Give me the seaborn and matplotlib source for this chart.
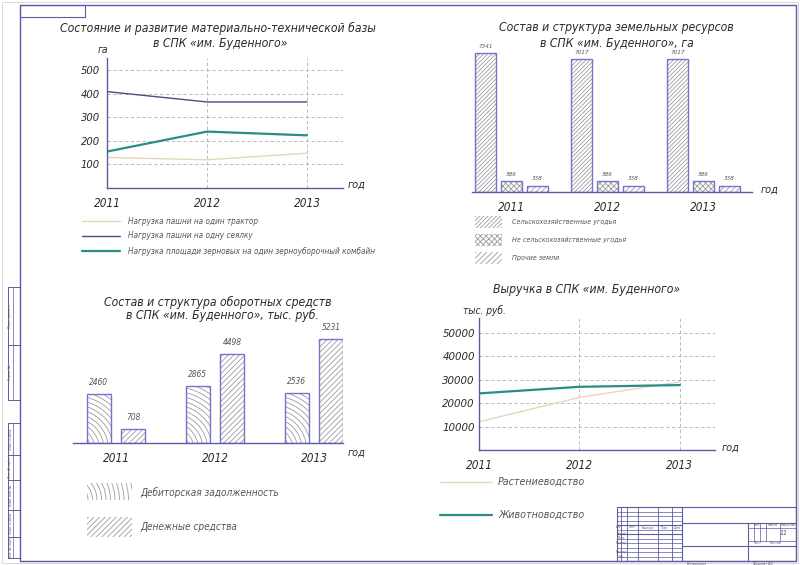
import matplotlib
matplotlib.use("Agg")
import numpy as np
import pandas as pd
import matplotlib.pyplot as plt
import seaborn as sns
from matplotlib import font_manager
from matplotlib.patches import Rectangle, Circle
from matplotlib.lines import Line2D
from matplotlib.transforms import IdentityTransform

# ── данные ────────────────────────────────────────────────────────────────
years = [2011, 2012, 2013]

# материально-техническая база, га
tractor_load = [130, 120, 148]
seeder_load = [410, 366, 366]
combine_load = [155, 240, 224]
mtb_labels = [
    "Нагрузка пашни на один трактор",
    "Нагрузка пашни на одну сеялку",
    "Нагрузка площади зерновых на один зерноуборочный комбайн",
]

# земельные ресурсы, га
land_types = ["Сельскохозяйственные угодья", "Не сельскохозяйственные угодья", "Прочие земли"]
agri_land = [7341, 7017, 7017]
non_agri_land = [586, 586, 586]
other_land = [338, 338, 338]

# оборотные средства, тыс. руб.
fund_types = ["Дебиторская задолженность", "Денежные средства"]
receivables = [2460, 2865, 2536]
cash = [708, 4498, 5231]

# выручка, тыс. руб.
revenue_types = ["Растениеводство", "Животноводство"]
crops_rev = [12000, 22400, 29000]
livestock_rev = [24100, 26900, 27650]

# ── оформление ────────────────────────────────────────────────────────────
W, H = 800, 565
NAVY = "#5b5ba6"
EDGE = "#7474cc"
LINE_DARK = "#4c4c86"
TEAL = "#2a8c84"
BEIGE = "#e6d6bc"
GRID = "#b0b0b0"
TXT = "#2a2a2a"
SOFT = "#555555"
HATCH = "#9c9c9c"
TITLE = 8.7

sns.set_theme(style="white")
names = {f.name for f in font_manager.fontManager.ttflist}
if "Liberation Sans Narrow" in names:
    plt.rcParams["font.family"] = ["Liberation Sans Narrow", "DejaVu Sans"]
else:
    plt.rcParams["font.family"] = ["DejaVu Sans"]
    plt.rcParams["font.stretch"] = "condensed"
plt.rcParams["font.style"] = "italic"
plt.rcParams["hatch.color"] = HATCH
plt.rcParams["hatch.linewidth"] = 0.6

fig = plt.figure(figsize=(W / 100, H / 100), dpi=100)
fig.patch.set_facecolor("white")


def fx(x):
    return x / W


def fy(y):
    return 1 - y / H


def axes_px(x0, y0, x1, y1):
    return fig.add_axes([fx(x0), fy(y1), (x1 - x0) / W, (y1 - y0) / H])


def ftext(x, y, s, size=10, color=TXT, **kw):
    kw.setdefault("ha", "center")
    kw.setdefault("va", "center")
    fig.text(fx(x), fy(y), s, fontsize=size, color=color, **kw)


def fline(xs, ys, color=NAVY, lw=0.8, **kw):
    fig.add_artist(Line2D([fx(v) for v in xs], [fy(v) for v in ys],
                          transform=fig.transFigure, color=color, lw=lw, **kw))


def frect(x0, y0, x1, y1, **kw):
    r = Rectangle((fx(x0), fy(y1)), (x1 - x0) / W, (y1 - y0) / H,
                  transform=fig.transFigure, **kw)
    fig.add_artist(r)
    return r


def arcs(target, cx, cy, clip, rmax, step=4.5):
    # концентрические дуги ("древесная" штриховка) в пикселях экрана
    for r in np.arange(step, rmax, step):
        c = Circle((cx, cy), r, transform=IdentityTransform(), fill=False,
                   ec=HATCH, lw=0.6, zorder=2)
        target.add_artist(c)
        c.set_clip_path(clip)


def style_line_axes(ax, pad_y, ysize):
    for s in ["top", "right"]:
        ax.spines[s].set_visible(False)
    for s in ["left", "bottom"]:
        ax.spines[s].set_color(NAVY)
        ax.spines[s].set_linewidth(1.0)
    ax.grid(True, color=GRID, linestyle=(0, (4, 3)), linewidth=0.6)
    ax.tick_params(length=0, colors=TXT)
    ax.tick_params(axis="y", labelsize=ysize, pad=pad_y)
    ax.tick_params(axis="x", labelsize=8.5, pad=6.5)
    ax.set_facecolor("none")


def style_bar_axes(ax):
    for s in ["top", "right", "left"]:
        ax.spines[s].set_visible(False)
    ax.spines["bottom"].set_color(NAVY)
    ax.spines["bottom"].set_linewidth(1.0)
    ax.set_yticks([])
    ax.tick_params(length=0, colors=TXT, labelsize=8.5, pad=6.5)
    ax.set_xlabel("")
    ax.set_ylabel("")
    ax.set_facecolor("none")


def outline_bars(ax, container, hatch):
    for bar in container:
        bar.set_hatch(hatch)
        bar.set_edgecolor(HATCH)
        bar.set_linewidth(0)
        ax.add_patch(Rectangle(bar.get_xy(), bar.get_width(), bar.get_height(),
                               fill=False, ec=EDGE, lw=1.0, zorder=3))


# ── 1. материально-техническая база ───────────────────────────────────────
ax1 = axes_px(107, 58, 343, 188)
sns.lineplot(x=years, y=tractor_load, color=BEIGE, lw=1.0, ax=ax1)
sns.lineplot(x=years, y=seeder_load, color=LINE_DARK, lw=1.0, ax=ax1)
sns.lineplot(x=years, y=combine_load, color=TEAL, lw=1.6, ax=ax1)
ax1.set_xlim(2011, 2013.36)
ax1.set_ylim(0, 553)
ax1.set_xticks(years)
ax1.set_yticks([100, 200, 300, 400, 500])
style_line_axes(ax1, 5, 8)

ftext(218, 28, "Состояние и развитие материально-технической базы", size=TITLE)
ftext(220, 43, "в СПК «им. Буденного»", size=TITLE)
ftext(103, 50, "га", size=7.5)
ftext(357, 185, "год", size=7.8)
for i, (lab, col, lw) in enumerate(zip(mtb_labels, [BEIGE, LINE_DARK, TEAL], [1.0, 1.0, 1.6])):
    yy = 221 + i * 15
    fline([82, 120], [yy, yy], color=col, lw=lw)
    ftext(128, yy, lab, size=5.9, color=SOFT, ha="left")

# ── 2. земельные ресурсы ─────────────────────────────────────────────────
land_df = pd.DataFrame({
    "year": years * 3,
    "type": [t for t in land_types for _ in years],
    "area": agri_land + non_agri_land + other_land,
})
ax2 = axes_px(472, 45, 752, 192)
sns.barplot(data=land_df, x="year", y="area", hue="type", hue_order=land_types,
            palette=["white"] * 3, saturation=1, width=0.81, gap=0.19,
            legend=False, ax=ax2)
ax2.set_xlim(-0.41, 2.505)
ax2.set_ylim(0, 7745)
style_bar_axes(ax2)
land_hatches = ["////////", "xxxxxx", "//////"]
for cont, h in zip(ax2.containers, land_hatches):
    outline_bars(ax2, cont, h)
    ax2.bar_label(cont, fmt="%d", padding=3, fontsize=4.5, color=SOFT)

ftext(616, 28, "Состав и структура земельных ресурсов", size=TITLE)
ftext(617, 43, "в СПК «им. Буденного», га", size=TITLE)
ftext(770, 190, "год", size=7.8)
for i, (lab, h) in enumerate(zip(land_types, land_hatches)):
    yy = 222 + i * 18
    frect(475, yy - 6, 502, yy + 6, fill=False, hatch=h, ec=HATCH, lw=0)
    ftext(512, yy, lab, size=5.1, color=SOFT, ha="left")

# ── 3. оборотные средства ────────────────────────────────────────────────
funds_df = pd.DataFrame({
    "year": years * 2,
    "type": [t for t in fund_types for _ in years],
    "value": receivables + cash,
})
ax3 = axes_px(73, 335, 343, 443.3)
sns.barplot(data=funds_df, x="year", y="value", hue="type", hue_order=fund_types,
            palette=["white"] * 2, saturation=1, width=0.70, gap=0.30,
            legend=False, ax=ax3)
ax3.set_xlim(-0.434, 2.293)
ax3.set_ylim(0, 5450)
style_bar_axes(ax3)
deb, den = ax3.containers
outline_bars(ax3, den, "//////")
for bar in deb:
    bar.set_edgecolor("none")
    bb = bar.get_window_extent()
    arcs(ax3, bb.x0 - 14, bb.y0 - 6, bar, np.hypot(bb.width + 14, bb.height + 6) + 4)
    ax3.add_patch(Rectangle(bar.get_xy(), bar.get_width(), bar.get_height(),
                            fill=False, ec=EDGE, lw=1.0, zorder=3))
for cont in (deb, den):
    ax3.bar_label(cont, fmt="%d", padding=5, fontsize=6, color=SOFT)

ftext(218, 302, "Состав и структура оборотных средств", size=TITLE)
ftext(222, 315, "в СПК «им. Буденного», тыс. руб.", size=TITLE)
ftext(357, 453, "год", size=7.8)
clip_box = Rectangle((87, H - 500), 45, 17, transform=IdentityTransform())
arcs(fig, 70, H - 500, clip_box, 65)
ftext(140, 492, fund_types[0], size=7.2, color=SOFT, ha="left")
frect(87, 517, 132, 537, fill=False, hatch="//////", ec=HATCH, lw=0)
ftext(140, 527, fund_types[1], size=7.2, color=SOFT, ha="left")

# ── 4. выручка ────────────────────────────────────────────────────────────
ax4 = axes_px(479, 318, 715, 450)
sns.lineplot(x=years, y=crops_rev, color=BEIGE, lw=1.0, ax=ax4)
sns.lineplot(x=years, y=livestock_rev, color=TEAL, lw=1.6, ax=ax4)
ax4.set_xlim(2011, 2013.35)
ax4.set_ylim(0, 56200)
ax4.set_xticks(years)
ax4.set_yticks([10000, 20000, 30000, 40000, 50000])
style_line_axes(ax4, 3, 8.2)

ftext(587, 289, "Выручка в СПК «им. Буденного»", size=TITLE)
ftext(484, 310, "тыс. руб.", size=7.3)
ftext(731, 448, "год", size=7.8)
for i, (lab, col, lw) in enumerate(zip(revenue_types, [BEIGE, TEAL], [1.0, 1.6])):
    yy = 482 + i * 33
    fline([440, 492], [yy, yy], color=col, lw=lw)
    ftext(498, yy, lab, size=7.7, color=SOFT, ha="left")

# ── рамка листа и штамп ──────────────────────────────────────────────────
frect(2, 2, 798, 563, fill=False, ec="#cccccc", lw=0.5)
frect(20, 5, 796, 561, fill=False, ec=NAVY, lw=1.0)
frect(20, 5, 85, 17, fill=False, ec=NAVY, lw=0.8)

# боковые графы
frect(8, 287, 20, 400, fill=False, ec=NAVY, lw=0.7)
fline([8, 20], [345, 345], lw=0.7)
fline([13, 13], [287, 400], lw=0.5)
frect(8, 423, 20, 558, fill=False, ec=NAVY, lw=0.7)
for yy in [455, 480, 510, 537]:
    fline([8, 20], [yy, yy], lw=0.7)
fline([13, 13], [423, 558], lw=0.5)
for (y0, y1), s in zip([(287, 345), (345, 400), (423, 455), (455, 480), (480, 510), (510, 537), (537, 558)],
                       ["Перв. примен.", "Справ. №", "Подп. и дата", "Инв. № дубл.",
                        "Взам. инв. №", "Подп. и дата", "Инв. № подл."]):
    ftext(10.5, (y0 + y1) / 2, s, size=2.5, color=SOFT, rotation=90)

# основная надпись
frect(617, 507, 796, 561, fill=False, ec=NAVY, lw=0.8)
fline([682, 682], [507, 561], lw=0.8)
for xx in [621, 627, 638, 658, 672]:
    fline([xx, xx], [507, 561], lw=0.6)
for k in range(1, 12):
    yy = 507 + k * 4.5
    fline([617, 682], [yy, yy], lw=0.5 if k not in (4, 6) else 0.8)
fline([682, 796], [523, 523], lw=0.8)
fline([682, 796], [546, 546], lw=0.8)
fline([748, 748], [523, 561], lw=0.8)
fline([748, 796], [528, 528], lw=0.5)
fline([748, 796], [541, 541], lw=0.5)
for xx in [754, 760, 766, 780]:
    fline([xx, xx], [523, 541], lw=0.5)
ftext(757, 525.5, "Лит.", size=2.5, color=SOFT)
ftext(773, 525.5, "Масса", size=2.5, color=SOFT)
ftext(788, 525.5, "Масштаб", size=2.5, color=SOFT)
ftext(784, 533, "11", size=5, color=SOFT)
ftext(757, 543.5, "Лист", size=2.5, color=SOFT)
ftext(775, 543.5, "Листов", size=2.5, color=SOFT)
for xx, s in zip([619, 632, 648, 665, 677], ["Изм.", "Лист", "№ докум.", "Подп.", "Дата"]):
    ftext(xx, 527.5, s, size=2.2, color=SOFT)
for k, s in enumerate(["Разраб.", "Пров.", "Т.контр.", "", "Н.контр.", "Утв."]):
    if s:
        ftext(622, 534 + k * 4.5, s, size=2.2, color=SOFT)
ftext(697, 563.5, "Копировал", size=2.8, color=SOFT)
ftext(763, 563.5, "Формат А3", size=2.8, color=SOFT)

fig.savefig("out.png", dpi=100, facecolor="white")
